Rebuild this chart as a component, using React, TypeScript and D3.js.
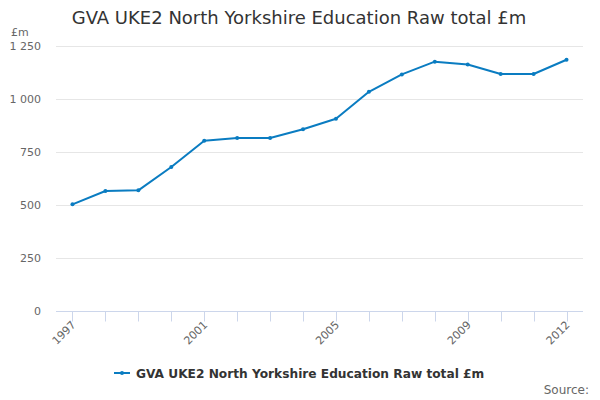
import React, { useEffect, useRef } from "react";
import * as d3 from "d3";

const years: string[] = ["1997","1998","1999","2000","2001","2002","2003","2004","2005","2006","2007","2008","2009","2010","2011","2012"];
const values: number[] = [503, 566, 569, 679, 803, 816, 816, 857, 907, 1034, 1116, 1176, 1163, 1118, 1118, 1185];
const yTicks: number[] = [0, 250, 500, 750, 1000, 1250];
const xLabelYears: string[] = ["1997", "2001", "2005", "2009", "2012"];
const title = "GVA UKE2 North Yorkshire Education Raw total £m";
const seriesName = "GVA UKE2 North Yorkshire Education Raw total £m";
const yUnit = "£m";
const sourceText = "Source:";

const W = 600, H = 400;
const M = { left: 56, right: 17, top: 46, bottom: 89 };
const FONT = "'DejaVu Sans', sans-serif";
const LINE = "#0a7cc1";

export default function App() {
  const ref = useRef<SVGSVGElement>(null);
  useEffect(() => {
    const svg = d3.select(ref.current);
    svg.selectAll("*").remove();
    const x = d3.scalePoint<string>().domain(years).range([M.left, W - M.right]).padding(0.5);
    const y = d3.scaleLinear().domain([0, 1250]).range([H - M.bottom, M.top]);
    const fmt = (v: number) => d3.format(",")(v).replace(/,/g, " ");

    // title
    svg.append("text").attr("x", 299).attr("y", 24).attr("text-anchor", "middle")
      .attr("font-family", FONT).attr("font-size", 18).attr("fill", "#333").text(title);

    // grid + y labels
    const g = svg.append("g");
    yTicks.forEach((t) => {
      if (t !== 0) {
        g.append("line").attr("x1", M.left).attr("x2", W - M.right)
          .attr("y1", Math.round(y(t)) + 0.5).attr("y2", Math.round(y(t)) + 0.5)
          .attr("stroke", "#e6e6e6").attr("stroke-width", 1);
      }
      g.append("text").attr("x", 41).attr("y", y(t) + 4).attr("text-anchor", "end")
        .attr("font-family", FONT).attr("font-size", 11).attr("fill", "#666").text(fmt(t));
    });
    svg.append("text").attr("x", 11).attr("y", 36).attr("font-family", FONT)
      .attr("font-size", 11).attr("fill", "#666").text(yUnit);

    // x axis
    const y0 = Math.round(y(0)) + 0.5;
    svg.append("line").attr("x1", M.left).attr("x2", W - M.right).attr("y1", y0).attr("y2", y0)
      .attr("stroke", "#ccd6eb").attr("stroke-width", 1);
    years.forEach((yr) => {
      const px = Math.round(x(yr)!) + 0.5;
      svg.append("line").attr("x1", px).attr("x2", px).attr("y1", y0).attr("y2", y0 + 10)
        .attr("stroke", "#ccd6eb").attr("stroke-width", 1);
    });
    xLabelYears.forEach((yr) => {
      const px = x(yr)!;
      svg.append("text").attr("transform", `translate(${px + 4},${y0 + 14}) rotate(-45)`)
        .attr("text-anchor", "end").attr("font-family", FONT).attr("font-size", 11)
        .attr("fill", "#666").text(yr);
    });

    // line
    const line = d3.line<number>().x((_, i) => x(years[i])!).y((d) => y(d));
    svg.append("path").datum(values).attr("d", line).attr("fill", "none")
      .attr("stroke", LINE).attr("stroke-width", 2).attr("stroke-linejoin", "round");
    svg.append("g").selectAll("circle").data(values).join("circle")
      .attr("cx", (_, i) => x(years[i])!).attr("cy", (d) => y(d)).attr("r", 2).attr("fill", LINE);

    // legend
    const ly = 373;
    svg.append("line").attr("x1", 114).attr("x2", 130).attr("y1", ly).attr("y2", ly)
      .attr("stroke", LINE).attr("stroke-width", 2);
    svg.append("circle").attr("cx", 122).attr("cy", ly).attr("r", 2).attr("fill", LINE);
    svg.append("text").attr("x", 136).attr("y", ly + 4.5).attr("font-family", FONT)
      .attr("font-size", 12.2).attr("font-weight", "bold").attr("fill", "#333").text(seriesName);

    svg.append("text").attr("x", 589).attr("y", 394).attr("text-anchor", "end")
      .attr("font-family", FONT).attr("font-size", 12).attr("fill", "#666").text(sourceText);
  }, []);
  return (
    <svg ref={ref} width={W} height={H}
      style={{ position: "absolute", left: 0, top: 0, background: "#fff", display: "block" }} />
  );
}
